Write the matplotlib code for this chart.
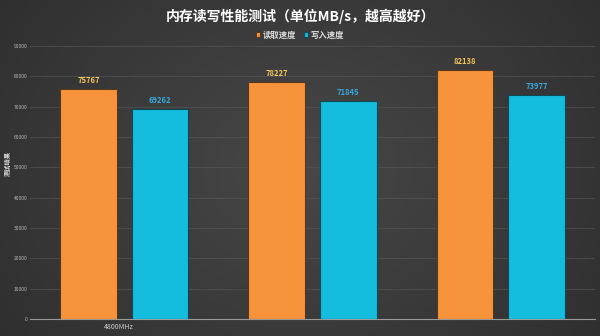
import numpy as np
import matplotlib
matplotlib.use("Agg")
import matplotlib.pyplot as plt

plt.rcParams['font.family'] = ['Noto Sans CJK SC', 'DejaVu Sans']

categories = ["4800MHz", "", ""]
read_speed = [75767, 78227, 82138]
write_speed = [69262, 71845, 73977]
series_names = ["读取速度", "写入速度"]
yticks = [0, 10000, 20000, 30000, 40000, 50000, 60000, 70000, 80000, 90000]
title = "内存读写性能测试（单位MB/s，越高越好）"
ylabel = "测试结果"

fig = plt.figure(figsize=(6, 3.36), dpi=100)

# background gradient
bg = fig.add_axes([0, 0, 1, 1])
xx = np.linspace(-1, 1, 300)
yy = np.linspace(-1, 1, 170)
X, Y = np.meshgrid(xx, yy)
R = np.sqrt(X**2 * 1.0 + Y**2 * 0.5)
val = 0.28 - 0.10 * np.clip(R, 0, 1.3) / 1.3
img = np.dstack([val, val, val])
bg.imshow(img, aspect='auto', extent=[0, 1, 0, 1], interpolation='bilinear')
bg.set_xlim(0, 1); bg.set_ylim(0, 1)
bg.axis('off')

ax = fig.add_axes([30/600, (336-319)/336, (595-30)/600, (319-46)/336])
ax.patch.set_alpha(0)

x = np.arange(len(categories))
w = 0.30
off = 0.19
orange = '#F7933B'
blue = '#14BCDD'
b1 = ax.bar(x - off, read_speed, w, color=orange, edgecolor='#5a3a1e', linewidth=0.8, label=series_names[0], zorder=3)
b2 = ax.bar(x + off, write_speed, w, color=blue, edgecolor='#0d4a58', linewidth=0.8, label=series_names[1], zorder=3)

for xi, v in zip(x - off, read_speed):
    ax.text(xi, v + 1300, str(v), ha='center', va='bottom', fontsize=5.5, fontweight='bold', color='#F2C45A', zorder=4)
for xi, v in zip(x + off, write_speed):
    ax.text(xi, v + 1300, str(v), ha='center', va='bottom', fontsize=5.5, fontweight='bold', color='#3AA8DC', zorder=4)

ax.set_xlim(-0.5, 2.5)
ax.set_ylim(0, 90000)
ax.set_yticks(yticks)
ax.set_yticklabels([str(t) for t in yticks], fontsize=3.5, color='#bbbbbb')
ax.tick_params(axis='y', length=0, pad=2)
ax.set_xticks(x - 0.03)
ax.set_xticklabels(categories, fontsize=5, color='#cccccc')
ax.tick_params(axis='x', length=0, pad=3)
ax.grid(axis='y', color='#545454', linewidth=0.5, zorder=0)
for s in ['top', 'right', 'left']:
    ax.spines[s].set_visible(False)
ax.spines['bottom'].set_color('#9a9a9a')
ax.spines['bottom'].set_linewidth(0.8)

fig.text(7/600, 1 - 163/336, ylabel, rotation=90, fontsize=4.5, fontweight='bold', color='#dddddd', ha='center', va='center')

fig.text(0.5, 1 - 16/336, title, fontsize=10, fontweight='bold', color='white', ha='center', va='center')

leg = fig.legend(handles=[b1, b2], labels=series_names, loc='center', bbox_to_anchor=(0.5, 1 - 35/336),
                 ncol=2, frameon=False, prop={'size': 6, 'weight': 'bold'}, handlelength=0.5, handleheight=0.5,
                 handletextpad=0.3, columnspacing=1.0, labelcolor='#dddddd')

fig.savefig('out.png', dpi=100)
